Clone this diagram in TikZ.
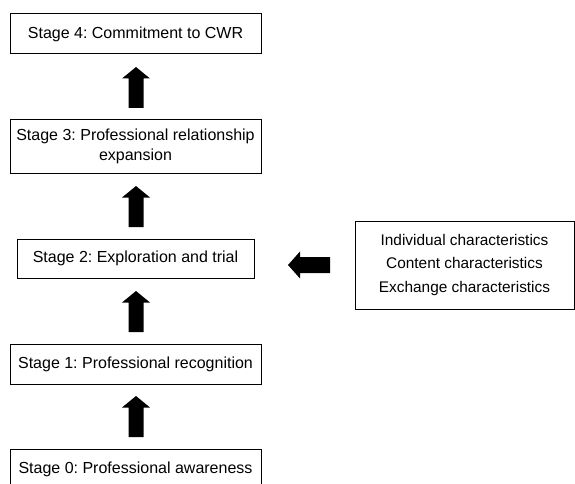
\documentclass[tikz,border=0pt]{standalone}
\usepackage{fontspec}
\setmainfont{Liberation Sans}
\begin{document}
\frenchspacing
\begin{tikzpicture}[x=1pt,y=-1pt,
  stagebox/.style={draw=black,line width=1pt,inner sep=0pt,align=center,
    font=\fontsize{16}{20}\selectfont},
  uparr/.pic={\fill[black] (0,-20.5) -- (14,-9) -- (7.5,-9) -- (7.5,20.5) -- (-7.5,20.5) -- (-7.5,-9) -- (-14,-9) -- cycle;},
  leftarr/.pic={\fill[black] (-21,0) -- (-9,-13.5) -- (-9,-8) -- (21,-8) -- (21,8) -- (-9,8) -- (-9,13.5) -- cycle;}
]
\useasboundingbox (0,0) rectangle (575,484);
\clip (0,0) rectangle (575,484);
\node[stagebox,minimum width=251pt,minimum height=40pt] (s4) at (135.5,34) {Stage 4: Commitment to CWR};
\node[stagebox,minimum width=251pt,minimum height=53pt] (s3) at (135.5,146.5) {Stage 3: Professional relationship\\expansion};
\node[stagebox,minimum width=237pt,minimum height=39pt] (s2) at (135.5,258.5) {Stage 2: Exploration and trial};
\node[stagebox,minimum width=251pt,minimum height=40pt] (s1) at (135.5,364) {Stage 1: Professional recognition};
\node[stagebox,minimum width=251pt,minimum height=40pt] (s0) at (135.5,469) {Stage 0: Professional awareness};
\node[stagebox,minimum width=219pt,minimum height=88pt,font=\fontsize{15.4}{23.3}\selectfont] (ch) at (464.5,265) {Individual characteristics\\Content characteristics\\Exchange characteristics};
\pic at (136,87.5) {uparr};
\pic at (136,206.5) {uparr};
\pic at (136,311.5) {uparr};
\pic at (136,416.5) {uparr};
\pic at (309,265) {leftarr};
\end{tikzpicture}
\end{document}
